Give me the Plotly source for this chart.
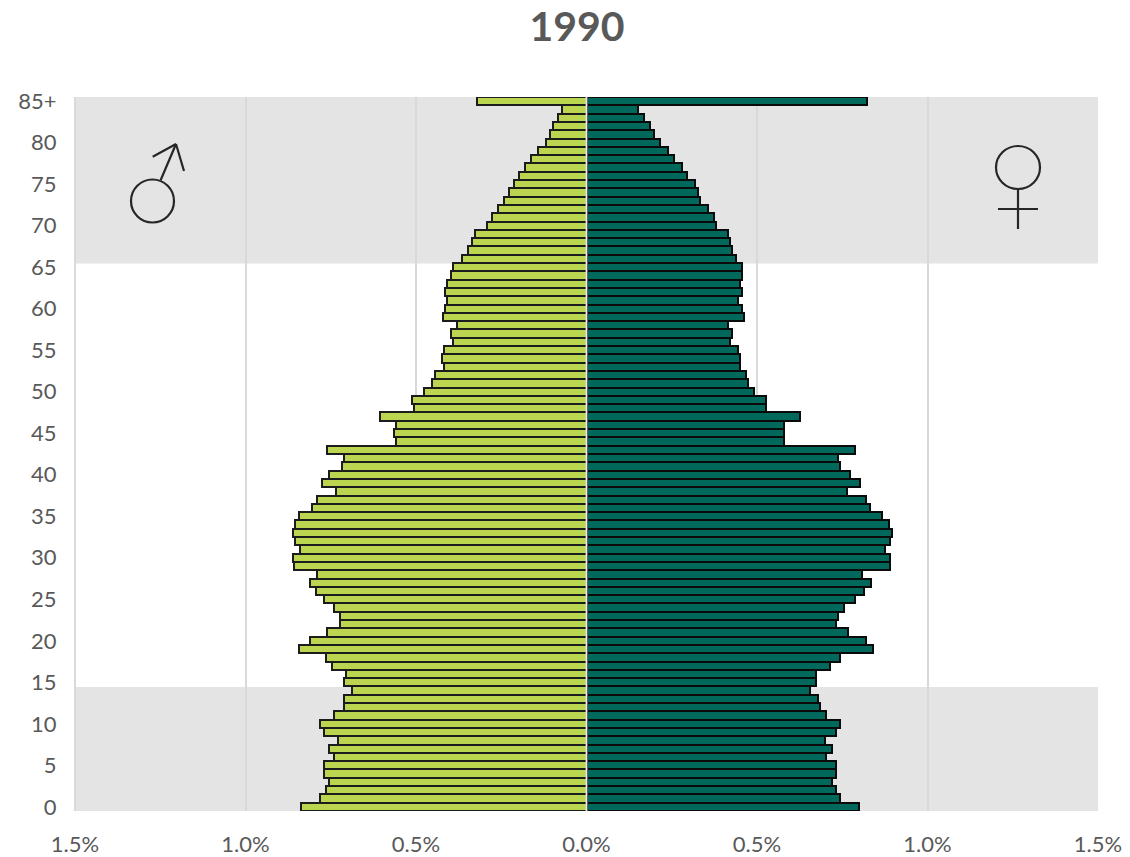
import plotly.graph_objects as go

ages = list(range(86))
male = [0.836,0.783,0.765,0.754,0.770,0.770,0.741,0.754,0.729,0.771,
        0.783,0.741,0.712,0.712,0.689,0.712,0.706,0.747,0.765,0.842,
        0.812,0.760,0.724,0.724,0.741,0.771,0.794,0.812,0.789,0.857,
        0.860,0.840,0.854,0.860,0.854,0.842,0.806,0.789,0.735,0.777,
        0.754,0.718,0.712,0.760,0.560,0.566,0.560,0.606,0.507,0.512,
        0.478,0.454,0.443,0.418,0.424,0.418,0.393,0.396,0.379,0.420,
        0.414,0.408,0.414,0.408,0.396,0.391,0.366,0.349,0.337,0.326,
        0.291,0.278,0.261,0.243,0.226,0.213,0.197,0.179,0.162,0.143,
        0.119,0.107,0.097,0.084,0.073,0.320]
female = [0.798,0.744,0.732,0.721,0.732,0.732,0.703,0.721,0.698,0.732,
          0.744,0.703,0.685,0.679,0.656,0.673,0.673,0.715,0.744,0.839,
          0.821,0.767,0.732,0.738,0.756,0.786,0.815,0.833,0.809,0.891,
          0.891,0.874,0.891,0.897,0.886,0.868,0.832,0.821,0.763,0.803,
          0.774,0.744,0.738,0.786,0.579,0.579,0.579,0.627,0.527,0.527,
          0.491,0.475,0.468,0.450,0.450,0.445,0.421,0.427,0.415,0.462,
          0.456,0.445,0.456,0.450,0.456,0.456,0.439,0.427,0.421,0.415,
          0.381,0.375,0.357,0.334,0.328,0.317,0.294,0.281,0.258,0.240,
          0.216,0.198,0.187,0.168,0.151,0.822]
x_ticks = [-1.5,-1.0,-0.5,0.0,0.5,1.0,1.5]
x_labels = ["1.5%","1.0%","0.5%","0.0%","0.5%","1.0%","1.5%"]
y_ticks = list(range(0,86,5))
y_labels = [str(v) for v in range(0,85,5)] + ["85+"]

W, H = 1130, 857
L, R, T, B = 74, 1098, 97, 811
FONT = "Lato, sans-serif"
GRAY = "#595959"
INK = "#262626"

fig = go.Figure()
fig.add_bar(y=ages, x=[-v for v in male], orientation="h", name="Male",
            marker=dict(color="#BBD550", line=dict(color="#1c1c1c", width=2)))
fig.add_bar(y=ages, x=female, orientation="h", name="Female",
            marker=dict(color="#00695C", line=dict(color="#0a0a0a", width=2)))

def X(p): return (p - L) / (R - L)
def Y(p): return (B - p) / (B - T)

shapes = []
for lo, hi in [(-0.5, 14.45), (65.45, 85.5)]:
    shapes.append(dict(type="rect", xref="paper", yref="y", x0=0, x1=1, y0=lo, y1=hi,
                       fillcolor="#E4E4E4", line_width=0, layer="below"))
shapes.append(dict(type="line", xref="x", yref="paper", x0=0, x1=0, y0=0, y1=1,
                   line=dict(color="#E8E8E8", width=1.8), layer="above"))
fig.update_layout(
    width=W, height=H, autosize=False,
    margin=dict(l=L, r=W-R, t=T, b=H-B),
    paper_bgcolor="white", plot_bgcolor="white",
    barmode="overlay", bargap=0.0, showlegend=False,
    font=dict(family=FONT, color=GRAY, size=22),
    title=dict(text="<b>1990</b>", x=577/W, xanchor="center", y=1-27/H, yanchor="middle",
               font=dict(family=FONT, size=41, color=GRAY)),
    xaxis=dict(range=[-1.503,1.5], tickmode="array", tickvals=x_ticks, ticktext=x_labels,
               automargin=False,
               showgrid=True, gridcolor="#D9D9D9", gridwidth=1.5, zeroline=False, showline=False,
               ticks="outside", ticklen=14, tickcolor="rgba(0,0,0,0)"),
    yaxis=dict(range=[-0.5,85.5], tickmode="array", tickvals=y_ticks, ticktext=y_labels,
               automargin=False,
               showgrid=False, zeroline=False, showline=False,
               ticks="outside", ticklen=12, tickcolor="rgba(0,0,0,0)"),
)

sym = dict(xref="paper", yref="paper", line=dict(color=INK, width=2.2), layer="above")
def seg(a, b, c, d):
    shapes.append(dict(type="line", x0=X(a), y0=Y(b), x1=X(c), y1=Y(d), **sym))
def circ(a, b, c, d):
    shapes.append(dict(type="circle", x0=X(a), y0=Y(b), x1=X(c), y1=Y(d), **sym))
circ(131, 179.5, 174, 222.5)
seg(160.7, 180, 176, 144)
seg(152.7, 156.7, 176, 144)
seg(184, 171, 176, 144)
circ(996, 146, 1040, 189)
seg(1018, 189, 1018, 229)
seg(998, 209, 1038, 209)
fig.update_layout(shapes=shapes)

fig.write_html("out.html", config=dict(displayModeBar=False),
               post_script="document.body.style.margin='0';document.body.style.overflow='hidden';")
